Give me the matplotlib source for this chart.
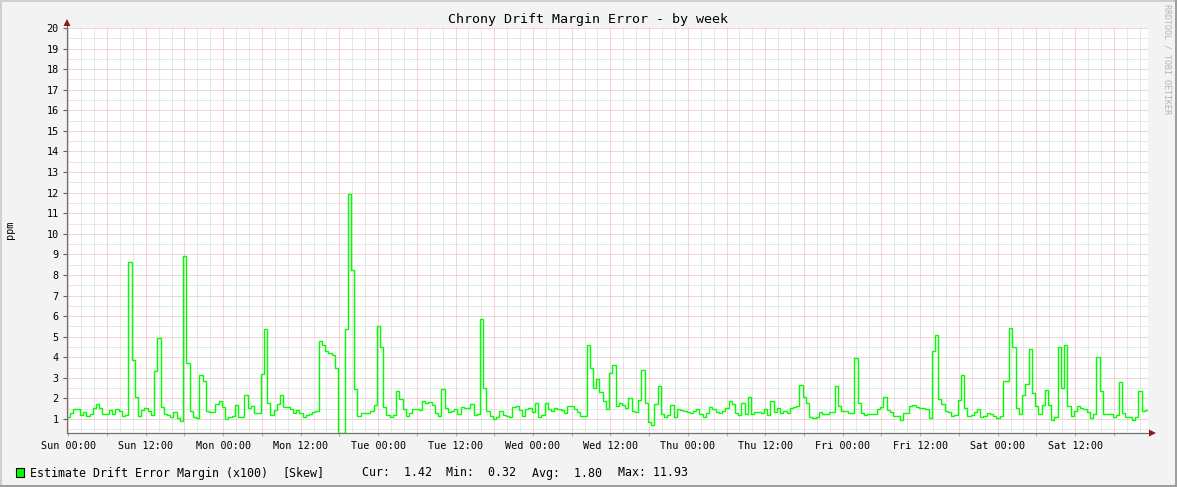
import numpy as np
import matplotlib
matplotlib.use("Agg")
import matplotlib.pyplot as plt
from matplotlib.patches import Rectangle, Polygon
from matplotlib.lines import Line2D

# ---------------- data (30-minute samples over one week, ppm) ----------------
drift_margin = [
    1.08, 1.29, 1.49, 1.49, 1.21, 1.34, 1.13, 1.26, 1.53, 1.73,
    1.53, 1.26, 1.26, 1.42, 1.26, 1.49, 1.38, 1.13, 1.21, 8.63,
    3.85, 2.08, 1.16, 1.45, 1.53, 1.40, 1.19, 3.33, 4.94, 1.60,
    1.26, 1.21, 1.11, 1.34, 1.05, 0.92, 8.93, 3.70, 1.40, 1.11,
    1.05, 3.14, 2.86, 1.37, 1.32, 1.32, 1.73, 1.86, 1.58, 1.00,
    1.10, 1.16, 1.66, 1.11, 1.11, 2.15, 1.55, 1.63, 1.31, 1.31,
    3.17, 5.37, 1.78, 1.21, 1.42, 1.73, 2.15, 1.58, 1.58, 1.50,
    1.29, 1.42, 1.29, 1.11, 1.18, 1.26, 1.35, 1.40, 4.79, 4.60,
    4.32, 4.21, 4.12, 3.48, 0.32, 0.32, 5.35, 11.93, 8.24, 2.46,
    1.13, 1.29, 1.29, 1.29, 1.40, 1.68, 5.52, 4.50, 1.58, 1.19,
    1.10, 1.19, 2.34, 1.97, 1.49, 1.15, 1.27, 1.49, 1.49, 1.45,
    1.87, 1.78, 1.82, 1.69, 1.29, 1.13, 2.46, 1.52, 1.35, 1.40,
    1.50, 1.24, 1.58, 1.52, 1.52, 1.71, 1.19, 1.24, 5.86, 2.51,
    1.40, 1.16, 1.01, 1.08, 1.37, 1.19, 1.16, 1.11, 1.60, 1.65,
    1.45, 1.16, 1.50, 1.53, 1.34, 1.78, 1.08, 1.18, 1.78, 1.50,
    1.40, 1.53, 1.50, 1.42, 1.29, 1.63, 1.63, 1.50, 1.34, 1.14,
    1.14, 4.60, 3.49, 2.51, 2.94, 2.31, 1.87, 1.49, 3.25, 3.62,
    1.63, 1.76, 1.69, 1.52, 2.02, 1.39, 1.32, 1.92, 3.38, 1.78,
    0.85, 0.71, 1.73, 2.60, 1.24, 1.11, 1.21, 1.66, 1.11, 1.49,
    1.44, 1.39, 1.32, 1.29, 1.39, 1.49, 1.24, 1.11, 1.29, 1.56,
    1.50, 1.34, 1.29, 1.39, 1.55, 1.87, 1.71, 1.29, 1.18, 1.76,
    1.24, 2.05, 1.24, 1.34, 1.34, 1.29, 1.47, 1.19, 1.87, 1.35,
    1.53, 1.27, 1.39, 1.29, 1.52, 1.60, 1.65, 2.63, 2.05, 1.76,
    1.08, 1.03, 1.10, 1.34, 1.23, 1.23, 1.34, 1.34, 2.58, 1.65,
    1.39, 1.39, 1.29, 1.29, 3.96, 1.76, 1.27, 1.18, 1.24, 1.24,
    1.24, 1.49, 1.58, 2.07, 1.45, 1.34, 1.14, 1.14, 0.97, 1.27,
    1.27, 1.62, 1.68, 1.58, 1.53, 1.53, 1.50, 1.03, 4.29, 5.08,
    1.97, 1.71, 1.40, 1.32, 1.16, 1.21, 1.94, 3.12, 1.53, 1.16,
    1.21, 1.34, 1.49, 1.08, 1.16, 1.27, 1.23, 1.16, 1.05, 1.16,
    2.85, 2.85, 5.42, 4.50, 1.53, 1.24, 2.15, 2.70, 4.40, 2.26,
    1.65, 1.24, 1.68, 2.41, 1.68, 0.97, 1.08, 4.50, 2.51, 4.60,
    1.63, 1.16, 1.39, 1.62, 1.55, 1.49, 1.34, 1.05, 1.24, 3.99,
    2.38, 1.24, 1.24, 1.24, 1.08, 1.19, 2.80, 1.29, 1.11, 1.11,
    0.97, 1.08, 2.36, 1.39, 1.42,
]
tick_labels = ["Sun 00:00", "Sun 12:00", "Mon 00:00", "Mon 12:00",
               "Tue 00:00", "Tue 12:00", "Wed 00:00", "Wed 12:00",
               "Thu 00:00", "Thu 12:00", "Fri 00:00", "Fri 12:00",
               "Sat 00:00", "Sat 12:00"]
y_ticks = list(range(1, 21))
series_name = "Estimate Drift Error Margin (x100)"
series_tag = "[Skew]"
stat_names = ["Cur:", "Min:", "Avg:", "Max:"]
stat_values = ["1.42", "0.32", "1.80", "11.93"]
title = "Chrony Drift Margin Error - by week"
y_label = "ppm"
watermark = "RRDTOOL / TOBI OETIKER"

# ---------------- figure ----------------
W, H = 1177, 487
MONO = "DejaVu Sans Mono"
fig = plt.figure(figsize=(W / 100, H / 100), dpi=100)
fig.patch.set_facecolor("#f3f3f3")

L, R, T, B = 67, 1148, 28, 433
ax = fig.add_axes([L / W, (H - B) / H, (R - L) / W, (B - T) / H])
ax.set_facecolor("white")


def fx(px):
    return px / W


def fy(py):
    return 1 - py / H


# borders (3D-like shade)
fig.patches.append(Rectangle((0, fy(2)), 1, 2 / H, transform=fig.transFigure,
                             facecolor="#cfcfcf", edgecolor="none", zorder=0))
fig.patches.append(Rectangle((0, 0), 2 / W, 1, transform=fig.transFigure,
                             facecolor="#cfcfcf", edgecolor="none", zorder=0))
fig.patches.append(Rectangle((0, 0), 1, 2 / H, transform=fig.transFigure,
                             facecolor="#9e9e9e", edgecolor="none", zorder=0))
fig.patches.append(Rectangle((1 - 2 / W, 0), 2 / W, 1, transform=fig.transFigure,
                             facecolor="#9e9e9e", edgecolor="none", zorder=0))

# time axis in hours relative to Sun 00:00
step_h = 0.5
start_h = -0.2
n = len(drift_margin)
hours = start_h + step_h * np.arange(n + 1)
vals = np.append(drift_margin, drift_margin[-1])

ax.set_xlim(hours[0], hours[-1])
ax.set_ylim(0.32, 20)

# grid (dotted)
dots = (0, (1, 1))
minor_c = "#d0d0d0"
major_c = "#e8acac"
gkw = dict(lw=0.72, ls=dots)
for v in np.arange(0.5, 20.0, 1.0):
    ax.axhline(v, color=minor_c, zorder=1, **gkw)
for v in y_ticks:
    ax.axhline(v, color=major_c, zorder=1.5, **gkw)
for h in np.arange(0, 168, 2):
    if h % 6 != 0:
        ax.axvline(h, color=minor_c, zorder=1, **gkw)
for h in np.arange(0, 168, 6):
    ax.axvline(h, color=major_c, zorder=1.5, **gkw)

# data
ax.plot(hours, vals, drawstyle="steps-post", color="#00ff00", lw=1.0,
        zorder=3, solid_joinstyle="miter")

# ticks
major_pos = np.arange(0, 168, 6)
labels = []
for h in major_pos:
    labels.append(tick_labels[int(h // 12)] if h % 12 == 0 else "")
ax.set_xticks(major_pos)
ax.set_xticklabels(labels, fontsize=7.3, family=MONO)
ax.set_yticks(y_ticks)
ax.set_yticklabels([str(v) for v in y_ticks], fontsize=7.3, family=MONO)
ax.tick_params(axis="x", length=2, color="#b0b0b0", pad=4)
ax.tick_params(axis="y", length=3, color="#606060", pad=3)

for s in ["top", "right"]:
    ax.spines[s].set_visible(False)
for s in ["left", "bottom"]:
    ax.spines[s].set_color("#707070")
    ax.spines[s].set_linewidth(0.8)

# axis extensions and arrows
fig.lines.append(Line2D([fx(L), fx(1151)], [fy(B), fy(B)], transform=fig.transFigure,
                        color="#707070", lw=0.8))
fig.lines.append(Line2D([fx(L), fx(L)], [fy(B), fy(22)], transform=fig.transFigure,
                        color="#707070", lw=0.8))
arrow_c = "#8b1a1a"
fig.patches.append(Polygon([[fx(1156), fy(B)], [fx(1149), fy(B - 3.5)], [fx(1149), fy(B + 3.5)]],
                           closed=True, transform=fig.transFigure, facecolor=arrow_c,
                           edgecolor="none", zorder=5))
fig.patches.append(Polygon([[fx(L), fy(19)], [fx(L - 3.5), fy(26)], [fx(L + 3.5), fy(26)]],
                           closed=True, transform=fig.transFigure, facecolor=arrow_c,
                           edgecolor="none", zorder=5))

# title, labels, watermark
fig.text(fx(588), fy(19), title, ha="center", va="center", fontsize=9.6, family=MONO)
fig.text(fx(10), fy(230), y_label, ha="center", va="center", rotation=90,
         fontsize=7.3, family=MONO)
fig.text(fx(1167), fy(4), watermark, ha="center", va="top", rotation=270,
         fontsize=6.0, family=MONO, color="#b4b4b4")

# legend
ly = fy(473)
fig.patches.append(Rectangle((fx(15.5), fy(477)), 8 / W, 9 / H, transform=fig.transFigure,
                             facecolor="#00ff00", edgecolor="black", lw=0.8, zorder=5))
fig.text(fx(30), ly, series_name, ha="left", va="center", fontsize=8.4, family=MONO)
fig.text(fx(282.5), ly, series_tag, ha="left", va="center", fontsize=8.4, family=MONO)
stat_x = [361.5, 446, 532.5, 618]
for xs, name, val in zip(stat_x, stat_names, stat_values):
    txt = f"{name} {val:>5}"
    fig.text(fx(xs), ly, txt, ha="left", va="center", fontsize=8.4, family=MONO)

fig.savefig("out.png", dpi=100, facecolor=fig.get_facecolor())
